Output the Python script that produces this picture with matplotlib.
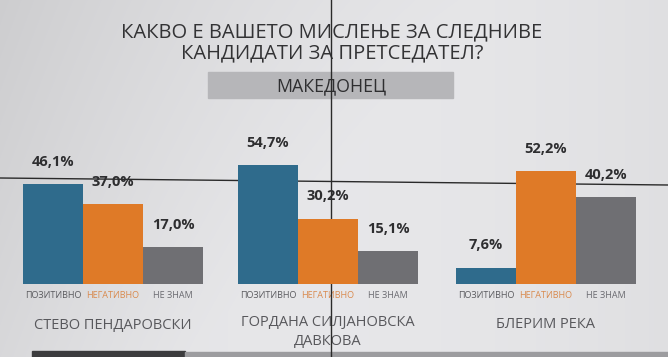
"""Opinion of presidential candidates among ethnic Macedonians - grouped bars."""

import matplotlib.pyplot as plt
import numpy as np
from matplotlib.patches import Rectangle

plt.rcParams["font.family"] = ["Open Sans", "DejaVu Sans"]

TITLE = "КАКВО Е ВАШЕТО МИСЛЕЊЕ ЗА СЛЕДНИВЕ\nКАНДИДАТИ ЗА ПРЕТСЕДАТЕЛ?"
SUBTITLE = "МАКЕДОНЕЦ"
candidates = ["СТЕВО ПЕНДАРОВСКИ", "ГОРДАНА СИЛЈАНОВСКА\nДАВКОВА", "БЛЕРИМ РЕКА"]
answers = ["ПОЗИТИВНО", "НЕГАТИВНО", "НЕ ЗНАМ"]
positive = [46.1, 54.7, 7.6]
negative = [37.0, 30.2, 52.2]
dont_know = [17.0, 15.1, 40.2]

COLORS = ["#2f6b8c", "#df7a27", "#6f6f73"]
ANSWER_COLORS = ["#5a5a5e", "#d98a4e", "#6a6a70"]

W, H = 668, 357
fig = plt.figure(figsize=(W / 100, H / 100), dpi=100)

# background with a soft vignette
bg = fig.add_axes([0, 0, 1, 1])
bg.set_xlim(0, W)
bg.set_ylim(H, 0)
bg.axis("off")
yy, xx = np.mgrid[0:H, 0:W]
shade = 0.905 - 0.07 * np.clip(1 - (xx / W) * 1.4 - (yy / H) * 0.6, 0, 1) \
    - 0.03 * (np.abs(xx - W / 2) / (W / 2)) ** 2
bg.imshow(np.dstack([shade, shade, shade * 1.01]).clip(0, 1),
          extent=[0, W, H, 0], aspect="auto", zorder=0)

bg.text(W / 2 - 2, 43, TITLE, ha="center", va="center", fontsize=14.5,
        color="#333335", linespacing=1.05)
bg.add_patch(Rectangle((208, 72), 245, 26, color="#b6b6b9", zorder=1))
bg.text(331, 86, SUBTITLE, ha="center", va="center", fontsize=12.8,
        color="#2e2e30", zorder=2)

# bars
ax = fig.add_axes([0, (H - 284) / H, 1, 130 / H])
ax.set_xlim(0, W)
ax.set_ylim(0, 60)
ax.axis("off")
ax.patch.set_alpha(0)

centers = np.array([113, 328, 546])
bw = 60
series = [positive, negative, dont_know]
for j, vals in enumerate(series):
    xs = centers + (j - 1) * bw
    ax.bar(xs, vals, width=bw, color=COLORS[j], zorder=2)
    for x, v in zip(xs, vals):
        ax.annotate(f"{v:.1f}%".replace(".", ","), (x, v), xytext=(0, 11),
                    textcoords="offset points", ha="center", va="bottom",
                    fontsize=10.5, fontweight="bold", color="#2e2e30")
    for x in xs:
        bg.text(x, 295, answers[j], ha="center", va="center", fontsize=6.5,
                color=ANSWER_COLORS[j])

for c, name in zip(centers, candidates):
    y = 332 if "\n" in name else 325
    bg.text(c, y, name, ha="center", va="center", fontsize=10.5,
            color="#58585c", linespacing=1.35)

# camera crosshair lines and screen edge seen in the photo
bg.plot([331, 331], [0, H], color="#2a2a2a", lw=1.0, zorder=5)
bg.plot([0, W], [178, 185], color="#2a2a2a", lw=1.0, zorder=5)
bg.add_patch(Rectangle((32, 351), 153, 6, color="#3c3c3e", zorder=4))
bg.add_patch(Rectangle((185, 352), W - 185, 5, color="#9c9c9f", zorder=4))

fig.savefig("out.png", dpi=100)
